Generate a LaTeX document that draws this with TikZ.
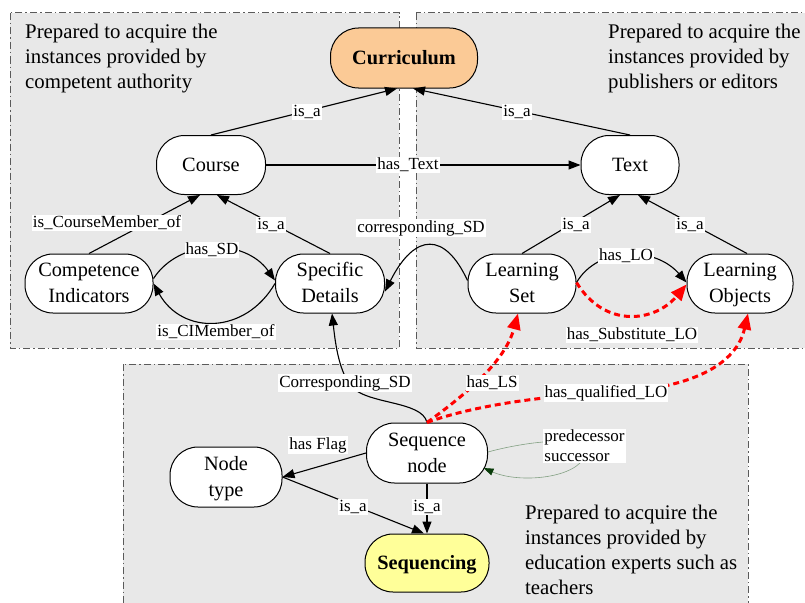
\documentclass[tikz,border=0pt]{standalone}
\usepackage{fontspec}
\setmainfont{Liberation Serif}
\usetikzlibrary{arrows.meta,calc}
\definecolor{regfill}{RGB}{232,232,232}
\definecolor{regline}{RGB}{90,90,90}
\definecolor{peach}{RGB}{251,202,150}
\definecolor{paleyellow}{RGB}{255,255,153}
\definecolor{loopline}{RGB}{130,160,130}
\definecolor{loopgreen}{RGB}{10,60,10}
\newcommand\cstrut{\rule[-6pt]{0pt}{24pt}}
\newcommand\twol[2]{\raisebox{-6.3pt}[26pt][26pt]{\begin{tabular}{@{}c@{}}#1\\#2\end{tabular}}}
\begin{document}
\begin{tikzpicture}[x=1pt,y=-1pt,
 region/.style={fill=regfill,draw=regline,line width=1pt,dash pattern=on 7pt off 3pt on 1.5pt off 3pt},
 concept/.style={draw,line width=1pt,fill=white,rounded corners=28pt,inner sep=0pt,font=\fontsize{20.3}{26}\selectfont,execute at begin node=\cstrut,execute at end node=\cstrut},
 lab/.style={fill=white,text=black,inner sep=1pt,font=\fontsize{17}{20}\selectfont},
 note/.style={anchor=north west,align=left,inner sep=0pt,font=\fontsize{20.8}{25}\selectfont},
 arr/.style={line width=1.1pt,-{Triangle[length=12pt,width=9pt]}},
 redarr/.style={red,line width=3pt,dash pattern=on 6pt off 4pt,-{Triangle[length=16pt,width=13pt]}},
 looparr/.style={loopline,line width=0.6pt,-{Triangle[length=10pt,width=7pt,color=loopgreen]}}
]
\useasboundingbox (0,0) rectangle (805,602);
% regions
\path[region] (10,13) rectangle (399,348);
\path[region] (416,13) rectangle (830,348);
\path[region] (123,364) rectangle (748,630);
% notes
\node[note] (noteL) at (25,24) {Prepared to acquire the\\instances provided by\\competent authority};
\node[note] (noteR) at (608,24) {Prepared to acquire the\\instances provided by\\publishers or editors};
\node[note] (noteB) at (525,505) {Prepared to acquire the\\instances provided by\\education experts such as\\teachers};
% concepts
\node[concept,fill=peach,minimum width=147pt,minimum height=60pt,font={\fontsize{20.3}{26}\selectfont\bfseries}] (cur) at (404,58) {Curriculum};
\node[concept,minimum width=109pt,minimum height=59pt] (course) at (211,165) {Course};
\node[concept,minimum width=98pt,minimum height=59pt] (txt) at (630,165) {Text};
\node[concept,minimum width=128pt,minimum height=59pt] (ci) at (89,283.5) {\twol{Competence}{Indicators}};
\node[concept,minimum width=109pt,minimum height=59pt] (sd) at (330,283.5) {\twol{Specific}{Details}};
\node[concept,minimum width=108pt,minimum height=59pt] (ls) at (522,283.5) {\twol{Learning}{Set}};
\node[concept,minimum width=106pt,minimum height=59pt] (lo) at (740,283.5) {\twol{Learning}{Objects}};
\node[concept,minimum width=121pt,minimum height=60pt] (seq) at (427,453) {\twol{Sequence}{node}};
\node[concept,minimum width=112pt,minimum height=60pt] (ntype) at (226,477) {\twol{Node}{type}};
\node[concept,fill=paleyellow,minimum width=124pt,minimum height=58pt,font={\fontsize{20.3}{26}\selectfont\bfseries}] (seqg) at (427,563) {Sequencing};
% black edges
\draw[arr] (course.north) -- ([xshift=-7pt]cur.south) node[lab,at={(307,112)}] {is\_a};
\draw[arr] (txt.north) -- ([xshift=9pt]cur.south) node[lab,at={(517,112)}] {is\_a};
\draw[arr] (course.east) -- (txt.west) node[lab,at={(408,165)}] {has\_Text};
\draw[arr] (ci.north) -- ([xshift=-11pt]course.south) node[lab,at={(107,223)}] {is\_CourseMember\_of};
\draw[arr] (sd.north) -- ([xshift=6pt]course.south) node[lab,at={(271,225)}] {is\_a};
\draw[arr] ([yshift=5pt]ci.east) .. controls (180,238) and (245,238) .. ([yshift=3pt]sd.west) node[lab,at={(212,250)}] {has\_SD};
\draw[arr] (sd.west) .. controls (245,335) and (182,335) .. (ci.east) node[lab,at={(216,332)}] {is\_CIMember\_of};
\draw[arr] ([yshift=3pt]ls.west) .. controls (445,232) and (415,232) .. ([yshift=-8pt]sd.east) node[lab,at={(421,228)}] {corresponding\_SD};
\draw[arr] (ls.north) -- ([xshift=-10pt]txt.south) node[lab,at={(576,225)}] {is\_a};
\draw[arr] ([xshift=7pt]lo.north) -- ([xshift=8pt]txt.south) node[lab,at={(690,225)}] {is\_a};
\draw[arr] ([yshift=1pt]ls.east) .. controls (598,246) and (655,246) .. ([yshift=1pt]lo.west) node[lab,at={(626,256)}] {has\_LO};
\draw[arr] (seq.north) .. controls (422,400) and (365,405) .. (350,385) .. controls (338,368) and (335,340) .. ([xshift=2pt]sd.south) node[lab,at={(345,383)}] {Corresponding\_SD};
\draw[arr] (seq.west) -- (ntype.east) node[lab,at={(318,445)}] {has Flag};
\draw[arr] (ntype.east) -- ([xshift=-3pt]seqg.north) node[lab,at={(353,507)}] {is\_a};
\draw[arr] (seq.south) -- (seqg.north) node[lab,at={(427,507)}] {is\_a};
% red edges
\draw[redarr] ([yshift=1pt]ls.east) .. controls (605,329) and (655,322) .. ([yshift=-1pt]lo.west) node[lab,at={(632,335)}] {has\_Substitute\_LO};
\draw[redarr] (seq.north) .. controls (465,395) and (505,362) .. ([xshift=-4pt]ls.south) node[lab,at={(492,383)}] {has\_LS};
\draw[redarr] (seq.north) .. controls (480,403) and (560,395) .. (606,393) .. controls (680,390) and (735,370) .. ([xshift=8pt]lo.south) node[lab,at={(606,393)}] {has\_qualified\_LO};
% self loop
\draw[looparr] ([yshift=1pt]seq.east) .. controls (520,443) and (590,432) .. (585,455) .. controls (578,478) and (520,484) .. ([shift={(-4.5pt,-15pt)}]seq.east) node[lab,align=left,at={(584.5,446)}] {predecessor\\successor};
\end{tikzpicture}
\end{document}
